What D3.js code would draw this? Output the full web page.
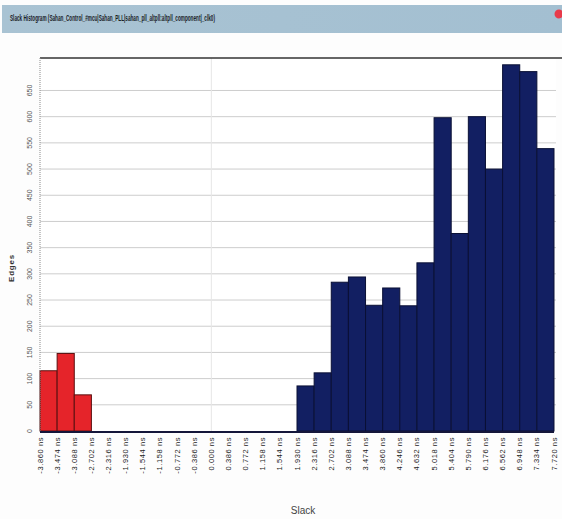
<!DOCTYPE html>
<html>
<head>
<meta charset="utf-8">
<script src="https://cdn.jsdelivr.net/npm/d3@7"></script>
<style>
  body { margin: 0; background: #fdfdfd; }
  svg { display: block; font-family: "Liberation Sans Narrow", "Liberation Sans", Arial, sans-serif; }
</style>
</head>
<body>
<div id="chart"></div>
<script>
// bin edges (ns) and edge counts per bin
const binEdges = [-3.860, -3.474, -3.088, -2.702, -2.316, -1.930, -1.544, -1.158, -0.772, -0.386,
    0.000, 0.386, 0.772, 1.158, 1.544, 1.930, 2.316, 2.702, 3.088, 3.474,
    3.860, 4.246, 4.632, 5.018, 5.404, 5.790, 6.176, 6.562, 6.948, 7.334, 7.720];
const edgeCounts = [115, 148, 69, 0, 0, 0, 0, 0, 0, 0,
    0, 0, 0, 0, 0, 86, 111, 284, 294, 240,
    273, 239, 321, 598, 377, 600, 500, 699, 686, 539];
const yTicks = [0, 50, 100, 150, 200, 250, 300, 350, 400, 450, 500, 550, 600, 650];
const titleText = 'Slack Histogram (Sahan_Control_#mcu|Sahan_PLL|sahan_pll_altpll:altpll_component|_clk0)';

const width = 562, height = 519;
const plot = { left: 40, right: 554, top: 58, bottom: 431 };

const svg = d3.select('#chart').append('svg')
    .attr('width', width)
    .attr('height', height);

// title bar
const grad = svg.append('defs').append('linearGradient')
    .attr('id', 'tb').attr('x1', 0).attr('x2', 1).attr('y1', 0).attr('y2', 0);
grad.append('stop').attr('offset', '0%').attr('stop-color', '#a9c3d3');
grad.append('stop').attr('offset', '100%').attr('stop-color', '#a3bfd1');
svg.append('rect')
    .attr('x', 2).attr('y', 5).attr('width', 560).attr('height', 28)
    .attr('fill', 'url(#tb)');
svg.append('text')
    .attr('x', 10).attr('y', 21)
    .attr('textLength', 205).attr('lengthAdjust', 'spacingAndGlyphs')
    .style('font-size', '8.5px')
    .style('font-weight', 'bold')
    .style('fill', '#1a2228')
    .text(titleText);
svg.append('circle')
    .attr('cx', 559).attr('cy', 14).attr('r', 4.5)
    .attr('fill', '#e83a4a');

// scales
const x = d3.scaleLinear()
    .domain([binEdges[0], binEdges[binEdges.length - 1]])
    .range([plot.left, plot.right]);
const y = d3.scaleLinear()
    .domain([0, 712])
    .range([plot.bottom, plot.top]);

// plot background
svg.append('rect')
    .attr('x', plot.left).attr('y', plot.top)
    .attr('width', plot.right - plot.left + 2).attr('height', plot.bottom - plot.top)
    .attr('fill', '#ffffff');

// grid lines
svg.append('g')
    .selectAll('line')
    .data(yTicks.slice(1))
    .enter().append('line')
    .attr('x1', plot.left).attr('x2', plot.right + 2)
    .attr('y1', d => y(d)).attr('y2', d => y(d))
    .attr('stroke', '#cdcdcd')
    .attr('stroke-width', 1);
svg.append('line')
    .attr('x1', x(0)).attr('x2', x(0))
    .attr('y1', plot.top).attr('y2', plot.bottom)
    .attr('stroke', '#e6e6e6');

// bars
const bins = edgeCounts.map((c, i) => ({ x0: binEdges[i], x1: binEdges[i + 1], count: c }));
svg.append('g')
    .selectAll('rect')
    .data(bins.filter(d => d.count > 0))
    .enter().append('rect')
    .attr('x', d => x(d.x0))
    .attr('y', d => y(d.count))
    .attr('width', d => x(d.x1) - x(d.x0))
    .attr('height', d => y(0) - y(d.count))
    .attr('fill', d => d.x0 < 0 ? '#e5242a' : '#121f62')
    .attr('stroke', d => d.x0 < 0 ? '#5a1010' : '#0a1035')
    .attr('stroke-width', 1);

// frame lines
svg.append('line')
    .attr('x1', plot.left).attr('x2', width)
    .attr('y1', plot.top).attr('y2', plot.top)
    .attr('stroke', '#333').attr('stroke-width', 1.5);
svg.append('line')
    .attr('x1', plot.left).attr('x2', plot.left)
    .attr('y1', plot.top).attr('y2', plot.bottom)
    .attr('stroke', '#8a8a8a').attr('stroke-dasharray', '1,1');
svg.append('line')
    .attr('x1', plot.left).attr('x2', plot.right)
    .attr('y1', plot.bottom + 1).attr('y2', plot.bottom + 1)
    .attr('stroke', '#14163a').attr('stroke-width', 2);

// y tick labels (rotated)
svg.append('g')
    .selectAll('text')
    .data(yTicks)
    .enter().append('text')
    .attr('transform', d => `translate(32,${y(d)}) rotate(-90)`)
    .attr('text-anchor', 'middle')
    .style('font-size', '7px')
    .style('fill', '#555')
    .text(d => d);

// x tick labels (rotated)
svg.append('g')
    .selectAll('text')
    .data(binEdges)
    .enter().append('text')
    .attr('transform', d => `translate(${x(d) + 2.5},437) rotate(-90)`)
    .attr('text-anchor', 'end')
    .style('font-size', '7.5px')
    .style('letter-spacing', '0.6px')
    .style('fill', '#222')
    .text(d => d.toFixed(3) + ' ns');

// axis titles
svg.append('text')
    .attr('transform', 'translate(14,268) rotate(-90)')
    .attr('text-anchor', 'middle')
    .style('font-size', '8px')
    .style('font-weight', 'bold')
    .style('letter-spacing', '0.8px')
    .style('fill', '#333')
    .text('Edges');
svg.append('text')
    .attr('x', 303).attr('y', 514)
    .attr('text-anchor', 'middle')
    .style('font-size', '10px')
    .style('fill', '#444')
    .text('Slack');
</script>
</body>
</html>
